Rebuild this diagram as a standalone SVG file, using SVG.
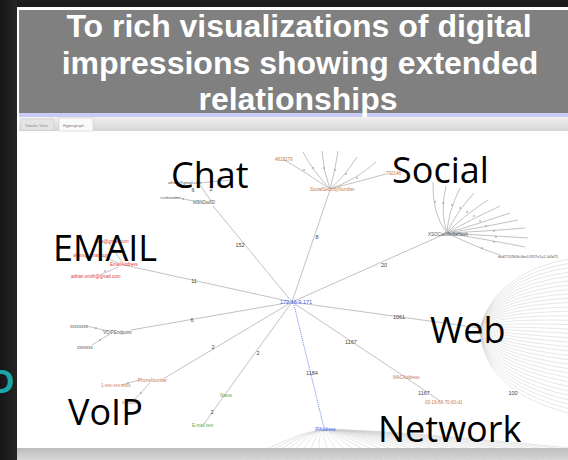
<svg xmlns="http://www.w3.org/2000/svg" width="568" height="460" viewBox="0 0 568 460">
<defs>
<linearGradient id="leftg" x1="0" y1="0" x2="1" y2="0"><stop offset="0" stop-color="#161616"/><stop offset="1" stop-color="#262626"/></linearGradient>
<linearGradient id="tabg" x1="0" y1="0" x2="0" y2="1"><stop offset="0" stop-color="#f0f0f0"/><stop offset="1" stop-color="#d6d6d6"/></linearGradient>
<linearGradient id="shad" x1="0" y1="0" x2="0" y2="1"><stop offset="0" stop-color="#bcbcbc"/><stop offset="1" stop-color="#d8d8d8"/></linearGradient>
</defs>
<style>
.e{stroke:#b2b2b2;stroke-width:0.8;fill:none}
.f{stroke:#c9c9c9;stroke-width:0.45;fill:none}
.d{fill:#8a8a8a}
.t{font-family:"Liberation Sans",Arial,sans-serif;font-size:4.5px;fill:#555}
.l{font-family:"Liberation Sans",Arial,sans-serif;font-size:5.5px;fill:#444;text-anchor:middle}
.red{fill:#e03a3a}
.brn{fill:#c8784e}
.grn{fill:#5aa83c}
.blu{fill:#3a5cf0}
.big{font-family:"Open Sans","Noto Sans",sans-serif;font-size:36px;fill:#000}
.hd{font-family:"Liberation Sans",Arial,sans-serif;font-size:32px;font-weight:bold;fill:#fff;text-anchor:middle}
.tab{font-family:"Liberation Sans",Arial,sans-serif;font-size:4px;fill:#8a8a8a}
</style>
<rect x="0" y="0" width="568" height="460" fill="#1d1d1d"/>
<rect x="0" y="0" width="17" height="460" fill="url(#leftg)"/>
<text x="-9" y="393" font-family="Open Sans, sans-serif" font-size="32" font-weight="bold" fill="#1aa5a8">D</text>
<rect x="17" y="7" width="551" height="441" fill="#ffffff"/>
<rect x="19" y="10" width="549" height="103" fill="#808080"/>
<rect x="19" y="113" width="549" height="4" fill="#cacaf6"/>
<rect x="19" y="117" width="549" height="14" fill="url(#tabg)"/>
<rect x="19" y="131" width="549" height="317" fill="#ffffff"/>
<rect x="17" y="448" width="551" height="12" fill="url(#shad)"/>
<g id="tabs">
<rect x="21" y="119" width="33" height="11" fill="#e4e4e4" stroke="#c8c8c8" stroke-width="0.5"/>
<text class="tab" x="25" y="126.5">Tabular View</text>
<rect x="59" y="118" width="34" height="13" fill="#fafafa" stroke="#c8c8c8" stroke-width="0.5"/>
<text class="tab" x="63" y="126.5" style="fill:#777">Hypergraph</text>
</g>
<g id="header">
<text class="hd" x="299" y="37">To rich visualizations of digital</text>
<text class="hd" x="300" y="74">impressions showing extended</text>
<text class="hd" x="298" y="110">relationships</text>
</g>
<g id="connectors">
<g id="web-fan">
<path class="f" d="M480,328Q498,262 600,255"/><path class="f" d="M480,328Q497.5,265.9 600,259.7"/><path class="f" d="M480,328Q497.1,269.9 600,264.4"/><path class="f" d="M480,328Q496.6,273.8 600,269.1"/><path class="f" d="M480,328Q496.2,277.8 600,273.9"/><path class="f" d="M480,328Q495.7,281.7 600,278.6"/><path class="f" d="M480,328Q495.3,285.7 600,283.3"/><path class="f" d="M480,328Q494.8,289.6 600,288"/><path class="f" d="M480,328Q494.3,293.5 600,292.7"/><path class="f" d="M480,328Q493.9,297.5 600,297.4"/><path class="f" d="M480,328Q493.4,301.4 600,302.1"/><path class="f" d="M480,328Q493,305.4 600,306.9"/><path class="f" d="M480,328Q492.5,309.3 600,311.6"/><path class="f" d="M480,328Q492.1,313.3 600,316.3"/><path class="f" d="M480,328Q491.6,317.2 600,321"/><path class="f" d="M480,328Q491.1,321.1 600,325.7"/><path class="f" d="M480,328Q490.7,325.1 600,330.4"/><path class="f" d="M480,328Q490.2,329 600,335.1"/><path class="f" d="M480,328Q489.8,333 600,339.9"/><path class="f" d="M480,328Q489.3,336.9 600,344.6"/><path class="f" d="M480,328Q488.9,340.9 600,349.3"/><path class="f" d="M480,328Q488.4,344.8 600,354"/><path class="f" d="M480,328Q487.9,348.7 600,358.7"/><path class="f" d="M480,328Q487.5,352.7 600,363.4"/><path class="f" d="M480,328Q487,356.6 600,368.1"/><path class="f" d="M480,328Q486.6,360.6 600,372.9"/><path class="f" d="M480,328Q486.1,364.5 600,377.6"/><path class="f" d="M480,328Q485.7,368.5 600,382.3"/><path class="f" d="M480,328Q485.2,372.4 600,387"/><path class="f" d="M480,328Q484.7,376.3 600,391.7"/><path class="f" d="M480,328Q484.3,380.3 600,396.4"/><path class="f" d="M480,328Q483.8,384.2 600,401.1"/><path class="f" d="M480,328Q483.4,388.2 600,405.9"/><path class="f" d="M480,328Q482.9,392.1 600,410.6"/><path class="f" d="M480,328Q482.5,396.1 600,415.3"/><path class="f" d="M480,328Q482,400 600,420"/>
</g>
<g id="network-fan">
<path class="f" d="M325,430Q295,430 220,475"/><path class="f" d="M325,430Q297.9,430 234.5,474.3"/><path class="f" d="M325,430Q300.9,430 249,473.6"/><path class="f" d="M325,430Q303.8,430 263.4,472.9"/><path class="f" d="M325,430Q306.7,430 277.9,472.2"/><path class="f" d="M325,430Q309.7,430 292.4,471.6"/><path class="f" d="M325,430Q312.6,430 306.9,470.9"/><path class="f" d="M325,430Q315.5,430 321.4,470.2"/><path class="f" d="M325,430Q318.4,430 335.9,469.5"/><path class="f" d="M325,430Q321.4,430 350.3,468.8"/><path class="f" d="M325,430Q324.3,430 364.8,468.1"/><path class="f" d="M325,430Q327.2,430 379.3,467.4"/><path class="f" d="M325,430Q330.2,430 393.8,466.7"/><path class="f" d="M325,430Q333.1,430 408.3,466"/><path class="f" d="M325,430Q336,429.5 422.8,465.3"/><path class="f" d="M325,430Q339,429.5 437.2,464.7"/><path class="f" d="M325,430Q341.9,429.5 451.7,464"/><path class="f" d="M325,430Q344.8,429.5 466.2,463.3"/><path class="f" d="M325,430Q347.8,429.5 480.7,462.6"/><path class="f" d="M325,430Q350.7,429 495.2,461.9"/><path class="f" d="M325,430Q353.6,429 509.7,461.2"/><path class="f" d="M325,430Q356.6,429 524.1,460.5"/><path class="f" d="M325,430Q359.5,429 538.6,459.8"/><path class="f" d="M325,430Q362.4,429 553.1,459.1"/><path class="f" d="M325,430Q365.3,428.5 567.6,458.4"/><path class="f" d="M325,430Q368.3,428.5 582.1,457.7"/><path class="f" d="M325,430Q371.2,428.5 596.6,457"/><path class="f" d="M325,430Q374.1,428 611,456.3"/><path class="f" d="M325,430Q377.1,428 625.5,455.6"/><path class="f" d="M325,430Q380,428 640,455"/>
</g>
<g id="social-fan">
<path class="e" d="M330,189Q305,172 283,159"/>
<path class="e" d="M330,189Q312,170 303,152"/>
<path class="e" d="M330,189Q323,170 322,151"/>
<path class="e" d="M330,189Q335,172 338,151"/>
<path class="e" d="M330,189Q345,176 357,157"/>
<path class="e" d="M330,189Q356,180 376,162"/>
<path class="e" d="M330,189L386,174"/>
<circle class="d" cx="304" cy="170" r="0.8"/><circle class="d" cx="313" cy="168" r="0.8"/><circle class="d" cx="324" cy="168" r="0.8"/><circle class="d" cx="335" cy="170" r="0.8"/><circle class="d" cx="346" cy="174" r="0.8"/><circle class="d" cx="357" cy="178" r="0.8"/>
</g>
<g id="xsoc-fan">
<path class="e" d="M447,233Q432,215 433,182"/>
<path class="e" d="M447,233Q440,212 446,186"/>
<path class="e" d="M447,233Q448,212 460,188"/>
<path class="e" d="M447,233Q455,214 474,193"/>
<path class="e" d="M447,233Q462,217 488,200"/>
<path class="e" d="M447,233Q470,220 500,206"/>
<path class="e" d="M447,233Q478,224 510,213"/>
<path class="e" d="M447,233Q485,227 518,220"/>
<path class="e" d="M447,233Q490,231 525,228"/>
<path class="e" d="M447,233Q495,236 528,238"/>
<path class="e" d="M447,233Q495,241 525,247"/>
<path class="e" d="M447,233Q478,248 500,255"/>
<circle class="d" cx="435" cy="202" r="0.8"/><circle class="d" cx="443" cy="203" r="0.8"/><circle class="d" cx="452" cy="205" r="0.8"/><circle class="d" cx="460" cy="208" r="0.8"/><circle class="d" cx="467" cy="212" r="0.8"/><circle class="d" cx="474" cy="216" r="0.8"/><circle class="d" cx="480" cy="221" r="0.8"/><circle class="d" cx="486" cy="226" r="0.8"/><circle class="d" cx="494" cy="231" r="0.8"/><circle class="d" cx="496" cy="237" r="0.8"/><circle class="d" cx="494" cy="242" r="0.8"/><circle class="d" cx="482" cy="248" r="0.8"/>
</g>
<g id="edges">
<line class="e" x1="292" y1="302" x2="213" y2="206"/>
<line class="e" x1="292" y1="302" x2="330" y2="190"/>
<line class="e" x1="292" y1="302" x2="447" y2="233"/>
<line class="e" x1="292" y1="302" x2="480" y2="328"/>
<polyline class="e" points="292,302 405,377 440,401"/>
<line x1="294" y1="305" x2="324" y2="428" stroke="#5577ee" stroke-width="0.9" stroke-dasharray="1,1"/>
<polyline class="e" points="292,302 226,393 204,424"/>
<line class="e" x1="292" y1="302" x2="163" y2="379"/>
<line class="e" x1="292" y1="302" x2="131" y2="330"/>
<line class="e" x1="292" y1="302" x2="124" y2="265"/>
<line class="e" x1="175" y1="197" x2="193" y2="201"/>
<line class="e" x1="199" y1="183" x2="231" y2="180"/>
<line class="e" x1="200" y1="185" x2="211" y2="201"/>
<line class="e" x1="118" y1="267" x2="100" y2="275"/>
<line class="e" x1="118" y1="263" x2="103" y2="256"/>
<line class="e" x1="122" y1="262" x2="109" y2="243"/>
<line class="e" x1="86" y1="326" x2="108" y2="331"/>
<line class="e" x1="92" y1="345" x2="110" y2="334"/>
<line class="e" x1="121" y1="385" x2="140" y2="380"/>
<line class="e" x1="150" y1="383" x2="133" y2="401"/>
<circle class="d" cx="183" cy="199" r="0.8"/><circle class="d" cx="105" cy="271" r="0.8"/><circle class="d" cx="96" cy="328" r="0.8"/><circle class="d" cx="100" cy="340" r="0.8"/><circle class="d" cx="128" cy="383" r="0.8"/><circle class="d" cx="141" cy="393" r="0.8"/>
</g>
<g id="edge-labels">
<text class="l" x="240" y="247">152</text>
<text class="l" x="317" y="239">8</text>
<text class="l" x="384" y="267">20</text>
<text class="l" x="399" y="319">1061</text>
<text class="l" x="351" y="344">1167</text>
<text class="l" x="424" y="395">1167</text>
<text class="l" x="312" y="375">1184</text>
<text class="l" x="258" y="355">2</text>
<text class="l" x="212" y="414">2</text>
<text class="l" x="213" y="349">2</text>
<text class="l" x="192" y="322">6</text>
<text class="l" x="194" y="283">11</text>
<text class="l" x="193" y="192">6</text>
<text class="l" x="211" y="191">2</text>
<text class="l" x="513" y="395">100</text>
</g>
</g>
<g id="node-center"><text class="t blu" x="280" y="304" style="font-size:5.5px">172.16.9.171</text></g>
<g id="node-chat">
<text class="t" x="193" y="204">M9NDsdID</text>
<text class="t" x="160" y="199" style="font-size:4px">&lt;unknown&gt;</text>
<text class="t" x="168" y="184" style="font-size:4px">alfrom@gmail.com</text>
</g>
<g id="node-social">
<text class="t brn" x="310" y="191">SocialSecurityNumber</text>
<text class="t brn" x="275" y="161">4815279</text>
<text class="t brn" x="386" y="175">792148</text>
</g>
<g id="node-xsoc">
<text class="t" x="428" y="236">XSOCialMediaHash</text>
<text class="t" x="498" y="258" style="font-size:3.5px">d6d2755964b-4be0-9327e1a1-1d1d75</text>
</g>
<g id="node-email">
<text class="t red" x="110" y="266">EmailAddress</text>
<text class="t red" x="71" y="278">adrian.smith@gmail.com</text>
<text class="t red" x="73" y="257">skaxx@gmail.com</text>
<text class="t red" x="97" y="243">sxs@gmail.com</text>
</g>
<g id="node-voip">
<text class="t" x="103" y="334">VOIPEndpoint</text>
<text class="t" x="70" y="328">xxxxxxxx</text>
<text class="t" x="77" y="349">xxxxxxx</text>
</g>
<g id="node-phone">
<text class="t brn" x="138" y="382">PhoneNumber</text>
<text class="t brn" x="101" y="387">1-xxx-xxx-xxxx</text>
<text class="t brn" x="122" y="404">xxxxxxx</text>
</g>
<g id="node-name">
<text class="t grn" x="220" y="397">Name</text>
<text class="t grn" x="192" y="427">E-mail text</text>
</g>
<g id="node-mac">
<text class="t brn" x="393" y="379">MACAddress</text>
<text class="t brn" x="425" y="404">00-19-68-70-60-d1</text>
</g>
<g id="node-ip"><text class="t blu" x="315" y="431">IPAddress</text></g>
<g id="categories">
<text class="big" x="171" y="188">Chat</text>
<text class="big" x="392" y="183">Social</text>
<text class="big" x="53" y="261">EMAIL</text>
<text class="big" x="430" y="343">Web</text>
<text class="big" x="378" y="442">Network</text>
<text class="big" x="68" y="425">VoIP</text>
</g>
</svg>
